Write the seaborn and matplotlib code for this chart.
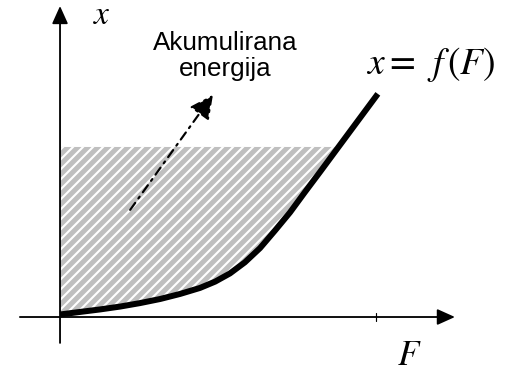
import numpy as np
import pandas as pd
import matplotlib
matplotlib.use("Agg")
import matplotlib.pyplot as plt
import seaborn as sns

# Characteristic x = f(F): deflection versus force
force = [0.000, 0.063, 0.127, 0.190, 0.253, 0.317, 0.380, 0.443, 0.491,
         0.538, 0.585, 0.633, 0.680, 0.728, 0.775, 0.823, 0.877, 0.940, 1.006]
deflection = [0.008, 0.016, 0.024, 0.033, 0.044, 0.057, 0.073, 0.092, 0.112,
              0.138, 0.173, 0.218, 0.273, 0.331, 0.395, 0.459, 0.532, 0.617,
              0.706]
# Deflection level up to which the stored energy area is shaded
energy_level = 0.538

annotation_text = "Akumulirana\nenergija"
curve_label = r"$x =\;\, f\,(F)$"
x_axis_label = r"$F$"
y_axis_label = r"$x$"

sns.set_theme(style="white")
plt.rcParams["font.family"] = ["Liberation Sans", "DejaVu Sans"]
plt.rcParams["mathtext.fontset"] = "stix"
plt.rcParams["hatch.linewidth"] = 1.25

DPI = 120
fig = plt.figure(figsize=(508 / DPI, 372 / DPI), dpi=DPI)
ax = fig.add_axes([0, 0, 1, 1])
ax.set_xlim(-0.190, 1.418)
ax.set_ylim(-0.174, 1.003)
ax.axis("off")

df = pd.DataFrame({"F": force, "x": deflection})
F = np.array(force)
X = np.array(deflection)

# Hatched area between the x-axis (vertical) and the curve
ax.fill_between(F, X, energy_level, where=X <= energy_level,
                interpolate=True, facecolor="#bfbfbf", edgecolor="white",
                hatch="////", linewidth=0, zorder=1)

# Coordinate axes with arrow heads
arrow_kw = dict(arrowstyle="-|>,head_length=0.6,head_width=0.27",
                mutation_scale=15, color="black", lw=1.1,
                shrinkA=0, shrinkB=0)
ax.annotate("", xy=(1.250, 0.0), xytext=(-0.127, 0.0),
            arrowprops=arrow_kw, zorder=3)
ax.annotate("", xy=(0.0, 0.984), xytext=(0.0, -0.082),
            arrowprops=arrow_kw, zorder=3)
# Unit tick on the F axis
ax.plot([1.0, 1.0], [-0.012, 0.012], color="black", lw=0.7, zorder=3)

# The characteristic curve
sns.lineplot(data=df, x="F", y="x", ax=ax, color="black", linewidth=3.6,
             sort=False, estimator=None, zorder=4, legend=False)
ax.lines[-1].set_solid_capstyle("butt")
ax.lines[-1].set_solid_joinstyle("round")

# Dash-dot pointer to the shaded area
ax.annotate("", xy=(0.484, 0.703), xytext=(0.222, 0.339),
            arrowprops=dict(arrowstyle="-|>,head_length=0.6,head_width=0.3",
                            mutation_scale=20, color="black", lw=1.3,
                            linestyle=(0, (4.0, 2.5, 1.0, 2.5)),
                            shrinkA=0, shrinkB=0),
            zorder=5)

ax.text(0.522, 0.905, annotation_text, ha="center", va="top",
        fontsize=15.6, linespacing=1.12, color="black")
ax.text(0.970, 0.770, curve_label, ha="left", va="baseline",
        fontsize=22.5, color="black")
ax.text(0.103, 0.927, y_axis_label, ha="left", va="baseline",
        fontsize=20, color="black")
ax.text(1.068, -0.152, x_axis_label, ha="left", va="baseline",
        fontsize=21, color="black")

fig.savefig("out.png", dpi=DPI)
